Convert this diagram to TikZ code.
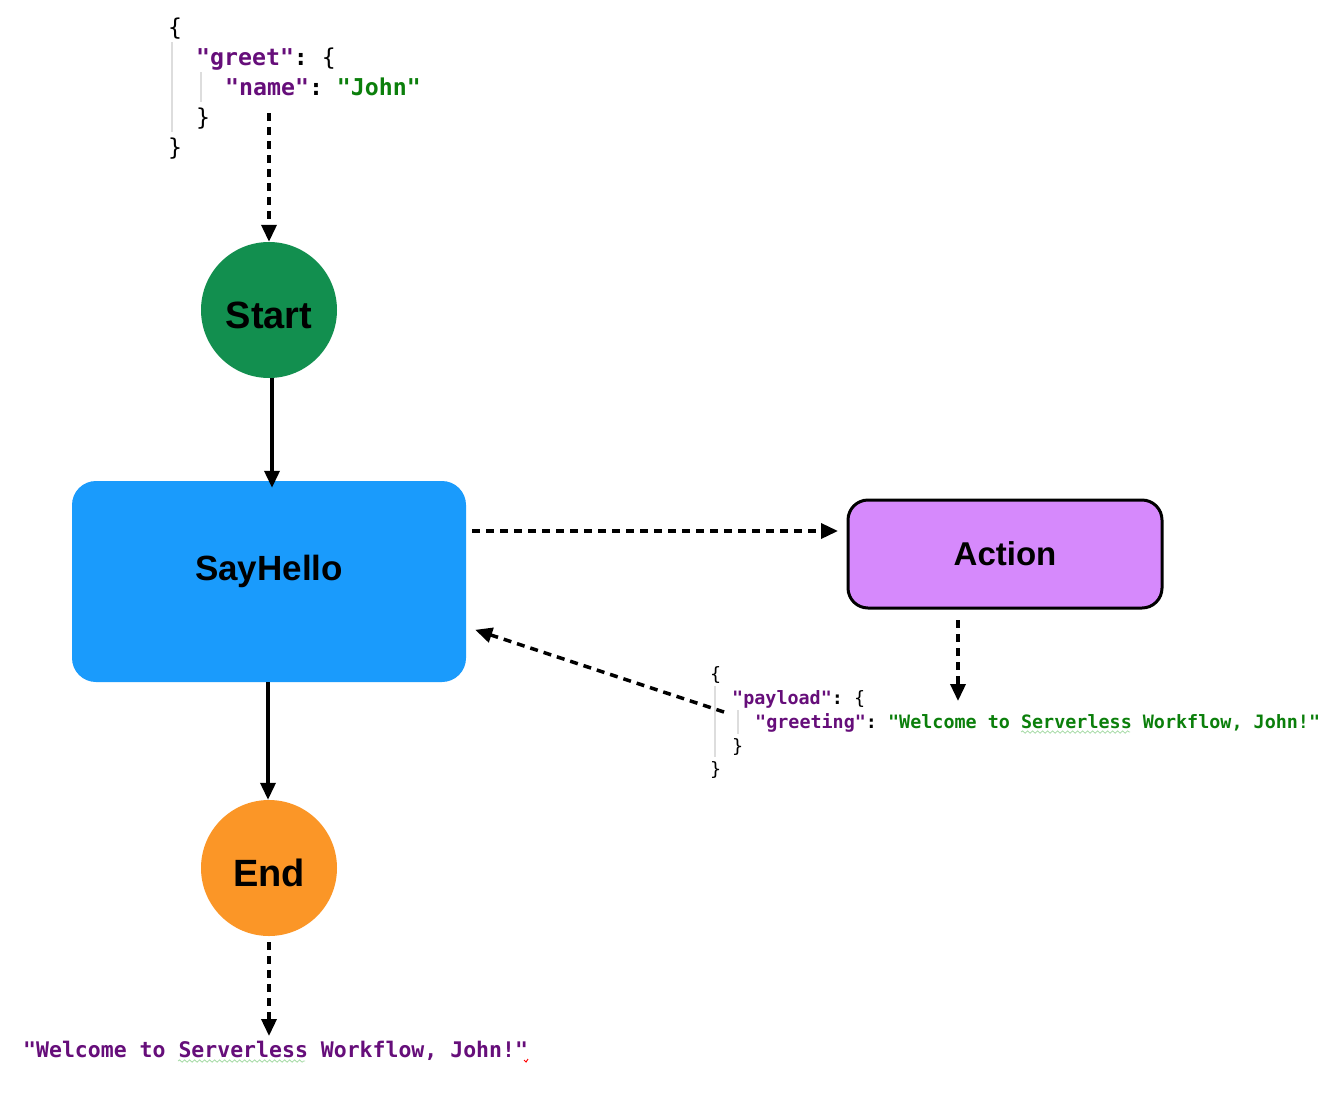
\documentclass[tikz,border=0pt]{standalone}
\usepackage{fontspec}
\setmainfont{Liberation Sans}
\newfontfamily\codefont{DejaVu Sans Mono}
\usetikzlibrary{arrows.meta,decorations.pathmorphing}
\definecolor{startgreen}{HTML}{128F4F}
\definecolor{sayblue}{HTML}{1A9BFC}
\definecolor{actpurple}{HTML}{D689FC}
\definecolor{endorange}{HTML}{FB9627}
\definecolor{keypurple}{HTML}{660E7A}
\definecolor{strgreen}{HTML}{0B7F0B}
\definecolor{guidegray}{HTML}{DDDDDD}
\frenchspacing
\newcommand{\lbr}{{\mdseries\{}}
\newcommand{\rbr}{{\mdseries\}}}
\begin{document}
\begin{tikzpicture}[x=1pt,y=-1pt,
  tip/.style={-{Triangle[length=17pt,width=15pt]}},
  solidarrow/.style={tip,line width=3.5pt},
  dasharrow/.style={tip,line width=3.5pt,dash pattern=on 8pt off 6pt},
  roundnode/.style={circle,minimum size=136pt,inner sep=0pt,text height=37pt,text depth=0pt,font=\fontsize{38}{44}\selectfont\bfseries},
  codebig/.style={anchor=base west,inner sep=0pt,font=\fontsize{23.2}{26}\selectfont\codefont\bfseries},
  codesmall/.style={anchor=base west,inner sep=0pt,font=\fontsize{18.4}{22}\selectfont\codefont\bfseries},
  guide/.style={guidegray,line width=1.2pt},
  squiggle/.style={green!60!black,opacity=0.35,line width=0.8pt,decorate,decoration={snake,amplitude=1.2pt,segment length=5pt}}
]
\useasboundingbox (0,0) rectangle (1340,1100);
\fill[white] (0,0) rectangle (1340,1100);

% top JSON
\node[codebig] (t1) at (168,35) {\lbr};
\node[codebig] (t2) at (196,65) {\textcolor{keypurple}{"greet"}: \lbr};
\node[codebig] (t3) at (225,95) {\textcolor{keypurple}{"name"}: \textcolor{strgreen}{"John"}};
\node[codebig] (t4) at (196,125) {\rbr};
\node[codebig] (t5) at (168,155) {\rbr};
\draw[guide] (172,42) -- (172,132);
\draw[guide] (201,72) -- (201,102);

% nodes
\node[roundnode,fill=startgreen] (start) at (269,310) {Start};
\node[rectangle,rounded corners=24pt,fill=sayblue,minimum width=394pt,minimum height=201pt,inner sep=0pt,
      text height=25pt,text depth=27pt,
      font=\fontsize{35}{40}\selectfont\bfseries] (say) at (269,581.5) {SayHello};
\node[rectangle,rounded corners=20pt,fill=actpurple,draw=black,line width=3pt,minimum width=314pt,minimum height=108pt,inner sep=0pt,
      font=\fontsize{33}{38}\selectfont\bfseries] (act) at (1005,554) {Action};
\node[roundnode,fill=endorange] (end) at (269,868) {End};

% payload JSON
\node[codesmall] (p1) at (710,680) {\lbr};
\node[codesmall] (p2) at (732,704) {\textcolor{keypurple}{"payload"}: \lbr};
\node[codesmall] (p3) at (755,728) {\textcolor{keypurple}{"greeting"}: \textcolor{strgreen}{"Welcome to Serverless Workflow, John!"}};
\node[codesmall] (p4) at (732,752) {\rbr};
\node[codesmall] (p5) at (710,775) {\rbr};
\draw[guide] (715,686) -- (715,757);
\draw[guide] (738,710) -- (738,734);
\draw[squiggle] (1021,732) -- (1130,732);

% bottom result
\node[anchor=base west,inner sep=0pt,font=\fontsize{21.5}{26}\selectfont\codefont\bfseries,text=keypurple] (res) at (23,1057) {"Welcome to Serverless Workflow, John!"};
\draw[squiggle] (178,1061) -- (305,1061);
\draw[red,line width=1pt] (524,1060) -- (526,1062) -- (528,1059);

% connectors
\coordinate (jin) at (269,113);
\coordinate (pin) at (724,712);
\coordinate (sayout) at (472,531);
\coordinate (actin) at (838,531);
\coordinate (actout) at (958,620);
\coordinate (payin) at (958,701);
\coordinate (endout) at (269,942);
\coordinate (resin) at (269,1036);

\draw[dasharrow] (jin) -- (start.north);
\draw[solidarrow] ([xshift=3pt]start.south) -- ([xshift=3pt,yshift=-7pt]say.north);
\draw[dasharrow] (sayout) -- (actin);
\draw[dasharrow] (actout) -- (payin);
\draw[dasharrow] (pin) -- ([xshift=9pt,yshift=-149pt]say.north east);
\draw[solidarrow] ([xshift=-1pt]say.south) -- ([xshift=-1pt]end.north);
\draw[dasharrow] (endout) -- (resin);
\end{tikzpicture}
\end{document}
